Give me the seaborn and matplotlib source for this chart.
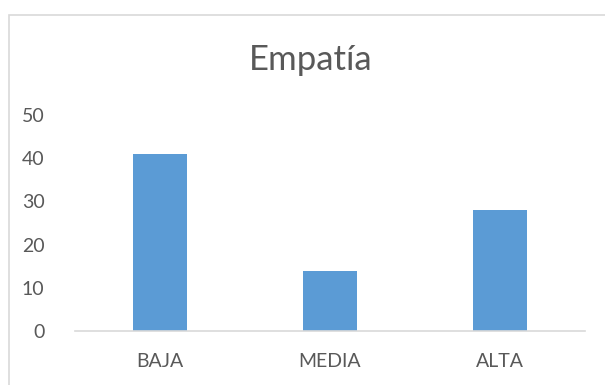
import matplotlib
matplotlib.use("Agg")
import matplotlib.pyplot as plt
import seaborn as sns
import pandas as pd
from matplotlib.patches import Rectangle

categories = ["BAJA", "MEDIA", "ALTA"]
values = [41, 14, 28]
title = "Empatía"
yticks = [0, 10, 20, 30, 40, 50]

sns.set_style("white")
plt.rcParams["font.family"] = ["Lato", "DejaVu Sans"]

df = pd.DataFrame({"cat": categories, "val": values})

fig = plt.figure(figsize=(6.05, 3.85), dpi=100)
ax = fig.add_axes([75/605, 1-331/385, 510/605, (331-115)/385])

sns.barplot(data=df, x="cat", y="val", ax=ax, color="#5B9BD5",
            width=0.32, saturation=1, edgecolor="none")

ax.set_ylim(0, 50)
ax.set_yticks(yticks)
ax.set_xlim(-0.5, 2.5)
ax.set_xlabel("")
ax.set_ylabel("")
for s in ["top", "right", "left"]:
    ax.spines[s].set_visible(False)
ax.spines["bottom"].set_color("#D9D9D9")
ax.spines["bottom"].set_linewidth(1.2)
ax.tick_params(axis="both", length=0, labelsize=14, labelcolor="#595959")
ax.tick_params(axis="y", pad=22)
ax.tick_params(axis="x", pad=16)

fig.text(311/605, 1-60/385, title, ha="center", va="center",
         fontsize=25, color="#595959")

border = Rectangle((9/605, -0.5), 1.5, (385-15)/385 + 0.5, transform=fig.transFigure,
                   fill=False, edgecolor="#D9D9D9", linewidth=1.2)
fig.patches.append(border)

fig.savefig("out.png", dpi=100)
